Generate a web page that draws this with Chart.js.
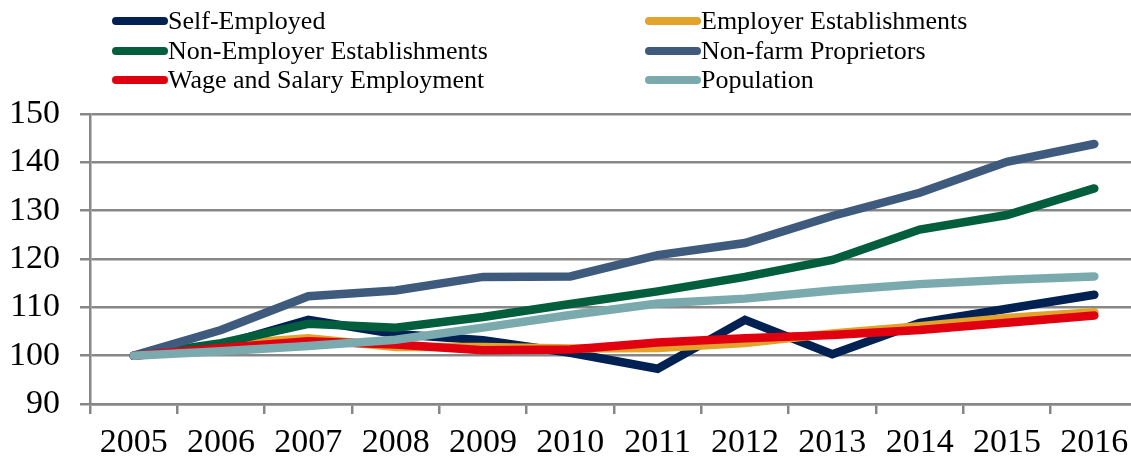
<!DOCTYPE html>
<html>
<head>
<meta charset="utf-8">
<script src="https://cdn.jsdelivr.net/npm/chart.js@4.4.1/dist/chart.umd.min.js"></script>
<style>
  html, body { margin: 0; padding: 0; background: #fff; overflow: hidden; }
  canvas { display: block; }
</style>
</head>
<body>
<canvas id="c" width="1150" height="458"></canvas>
<script>
// Index values, 2005 = 100
const years = ['2005','2006','2007','2008','2009','2010','2011','2012','2013','2014','2015','2016'];
const selfEmployed       = [100, 102.2, 107.4, 104.5, 103.2, 100.6, 97.3, 107.4, 100.3, 106.8, 109.7, 112.6];
const employerEstab      = [100, 102.3, 103.6, 101.8, 101.8, 101.5, 101.6, 102.6, 104.6, 106.1, 107.8, 109.0];
const nonEmployerEstab   = [100, 102.6, 106.6, 105.8, 108.0, 110.7, 113.3, 116.3, 119.8, 126.1, 129.1, 134.6];
const nonFarmProprietors = [100, 105.3, 112.3, 113.5, 116.3, 116.4, 120.8, 123.3, 128.9, 133.7, 140.1, 143.8];
const wageSalary         = [100, 101.6, 103.0, 102.3, 101.1, 101.3, 102.7, 103.6, 104.3, 105.3, 106.8, 108.3];
const population         = [100, 100.9, 102.0, 103.3, 105.8, 108.4, 110.8, 111.8, 113.5, 114.8, 115.7, 116.4];

const seriesNames  = ['Self-Employed', 'Employer Establishments', 'Non-Employer Establishments',
                      'Non-farm Proprietors', 'Wage and Salary Employment', 'Population'];
const seriesValues = [selfEmployed, employerEstab, nonEmployerEstab, nonFarmProprietors, wageSalary, population];
const seriesColors = ['#012152', '#E3A22A', '#035E3D', '#3E5A7D', '#E1000F', '#7AAAAE'];

const FONT = "'Liberation Serif', 'Times New Roman', serif";
const GRID = '#878787';

// Two-column legend drawn above the plot
const twoColumnLegend = {
  id: 'twoColumnLegend',
  afterDraw(chart) {
    const ctx = chart.ctx;
    const colX = [112, 645];
    const rowY = [21, 51, 80];
    ctx.save();
    ctx.font = '26px ' + FONT;
    ctx.textBaseline = 'middle';
    ctx.textAlign = 'left';
    chart.data.datasets.forEach((ds, i) => {
      const x = colX[i % 2];
      const y = rowY[Math.floor(i / 2)];
      ctx.strokeStyle = ds.borderColor;
      ctx.lineWidth = 8;
      ctx.lineCap = 'round';
      ctx.beginPath();
      ctx.moveTo(x + 4, y);
      ctx.lineTo(x + 52, y);
      ctx.stroke();
      ctx.fillStyle = '#000';
      ctx.fillText(ds.label, x + 56, y + 1);
    });
    ctx.restore();
  }
};

const datasets = seriesNames.map((name, i) => ({
  label: name,
  data: seriesValues[i],
  borderColor: seriesColors[i],
  backgroundColor: seriesColors[i],
  borderWidth: 8.5,
  borderCapStyle: 'round',
  borderJoinStyle: 'miter',
  pointRadius: 0,
  tension: 0,
  fill: false,
  order: seriesNames.length - 1 - i
}));

new Chart(document.getElementById('c'), {
  type: 'line',
  data: { labels: years, datasets },
  plugins: [twoColumnLegend],
  options: {
    responsive: false,
    animation: false,
    devicePixelRatio: 1,
    layout: { padding: { top: 114, right: 12, left: 0, bottom: 0 } },
    plugins: { legend: { display: false }, tooltip: { enabled: false } },
    scales: {
      x: {
        offset: true,
        grid: { offset: true, drawOnChartArea: false, drawTicks: true, tickLength: 10, color: GRID, lineWidth: 2.5 },
        border: { color: GRID, width: 2.5 },
        ticks: { color: '#000', font: { family: FONT, size: 34 }, padding: 9, maxRotation: 0, autoSkip: false },
        afterFit(scale) { scale.height = 54; }
      },
      y: {
        min: 90, max: 150,
        grid: { color: GRID, lineWidth: 2.5, tickLength: 10 },
        border: { color: GRID, width: 2.5 },
        ticks: { stepSize: 10, color: '#000', font: { family: FONT, size: 34 }, padding: 20 },
        afterFit(scale) { scale.width = 90; }
      }
    }
  }
});
</script>
</body>
</html>
